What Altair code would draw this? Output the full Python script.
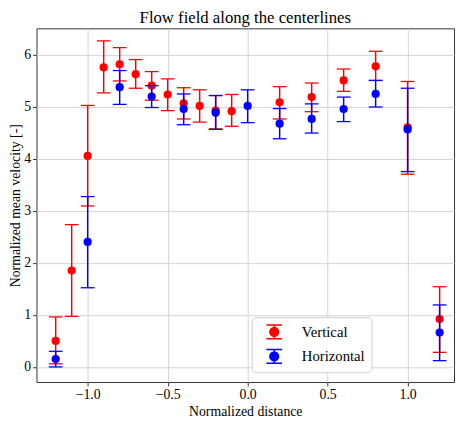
import altair as alt
import pandas as pd

# Vertical centerline
v_x = [-1.2, -1.1, -1.0, -0.9, -0.8, -0.7, -0.6, -0.5, -0.4, -0.3, -0.2, -0.1, 0.2, 0.4, 0.6, 0.8, 1.0, 1.2]
v_y = [0.50, 1.85, 4.05, 5.75, 5.81, 5.62, 5.40, 5.23, 5.06, 5.01, 4.92, 4.91, 5.08, 5.18, 5.50, 5.77, 4.60, 0.92]
v_lo = [0.06, 0.97, 3.09, 5.26, 5.49, 5.35, 5.12, 4.92, 4.76, 4.70, 4.57, 4.62, 4.76, 4.90, 5.29, 5.50, 3.70, 0.28]
v_hi = [0.96, 2.73, 5.02, 6.26, 6.13, 5.90, 5.67, 5.53, 5.36, 5.32, 5.21, 5.23, 5.38, 5.45, 5.72, 6.06, 5.48, 1.54]

# Horizontal centerline
h_x = [-1.2, -1.0, -0.8, -0.6, -0.4, -0.2, 0.0, 0.2, 0.4, 0.6, 0.8, 1.0, 1.2]
h_y = [0.15, 2.40, 5.37, 5.19, 4.95, 4.88, 5.01, 4.67, 4.76, 4.95, 5.24, 4.56, 0.66]
h_lo = [0.00, 1.52, 5.04, 4.98, 4.65, 4.56, 4.69, 4.38, 4.49, 4.71, 4.99, 3.75, 0.12]
h_hi = [0.30, 3.27, 5.69, 5.40, 5.24, 5.21, 5.32, 4.96, 5.05, 5.18, 5.50, 5.35, 1.19]

series = ["Vertical", "Horizontal"]
colors = ["#ff0000", "#0000ff"]

df = pd.concat([
    pd.DataFrame({"x": v_x, "y": v_y, "lo": v_lo, "hi": v_hi, "series": "Vertical"}),
    pd.DataFrame({"x": h_x, "y": h_y, "lo": h_lo, "hi": h_hi, "series": "Horizontal"}),
], ignore_index=True)

FONT = "Liberation Serif"

xs = alt.Scale(domain=[-1.32, 1.29], nice=False, zero=False)
ys = alt.Scale(domain=[-0.29, 6.5], nice=False, zero=False)
cs = alt.Scale(domain=series, range=colors)

xaxis = alt.Axis(title="Normalized distance", values=[-1.0, -0.5, 0.0, 0.5, 1.0], format=".1f",
                 labelExpr="replace(datum.label, '-', '−')",
                 labelFont=FONT, titleFont=FONT)
yaxis = alt.Axis(title="Normalized mean velocity [-]", values=[0, 1, 2, 3, 4, 5, 6], format="d",
                 labelFont=FONT, titleFont=FONT)

sym = ("M-1,-0.875H1M0,-0.875V0.875M-1,0.875H1"
       "M-0.56,0A0.56,0.56 0 1,0 0.56,0A0.56,0.56 0 1,0 -0.56,0Z")

legend = alt.Legend(title=None, orient="none", legendX=219, legendY=294,
                    symbolType=sym, symbolSize=256, symbolStrokeWidth=1.5,
                    symbolOpacity=1, symbolOffset=8, fillColor="white",
                    strokeColor="#cccccc", cornerRadius=4, padding=6,
                    labelFontSize=15, labelFont=FONT, rowPadding=5,
                    labelOffset=19, labelColor="black")

color = alt.Color("series:N", scale=cs, legend=legend)

layers = []
for s in series:
    base = alt.Chart(df).transform_filter(alt.datum.series == s)
    rule = base.mark_rule(strokeWidth=1.5).encode(
        x=alt.X("x:Q", scale=xs, axis=xaxis),
        y=alt.Y("lo:Q", scale=ys, axis=yaxis),
        y2="hi:Q",
        color=color,
    )
    cap_lo = base.mark_tick(orient="horizontal", size=14, thickness=1.3, opacity=1).encode(
        x=alt.X("x:Q", scale=xs), y=alt.Y("lo:Q", scale=ys), color=color,
    )
    cap_hi = base.mark_tick(orient="horizontal", size=14, thickness=1.3, opacity=1).encode(
        x=alt.X("x:Q", scale=xs), y=alt.Y("hi:Q", scale=ys), color=color,
    )
    pts = base.mark_point(filled=True, size=70, opacity=1, shape="circle").encode(
        x=alt.X("x:Q", scale=xs), y=alt.Y("y:Q", scale=ys), color=color,
    )
    layers += [rule, cap_lo, cap_hi, pts]

chart = alt.layer(*layers).properties(
    width=425, height=360,
    title=alt.Title("Flow field along the centerlines", font=FONT, fontSize=17,
                    fontWeight="normal", color="black", offset=1),
    autosize=alt.AutoSizeParams(type="none"),
    padding={"left": 29, "top": 17, "right": 2, "bottom": 38},
).configure(
    font=FONT
).configure_view(
    stroke="#333333", strokeWidth=1
).configure_axis(
    labelFont=FONT, titleFont=FONT, labelFontSize=14, titleFontSize=14,
    titleFontWeight="normal", labelColor="black", titleColor="black",
    grid=True, gridColor="#d3d3d3", gridWidth=1,
    domain=False, tickColor="#333333", tickSize=4, labelPadding=2,
)
chart = chart.configure_axisX(titlePadding=3).configure_axisY(titlePadding=1)

chart.save("out.html", embed_options={"renderer": "svg", "actions": False})
